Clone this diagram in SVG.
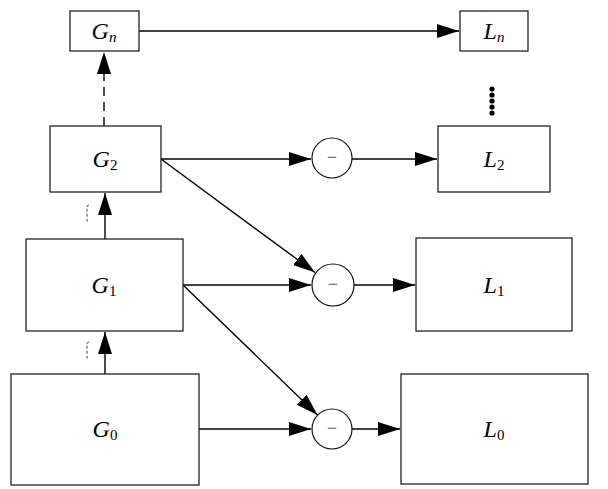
<svg xmlns="http://www.w3.org/2000/svg" width="608" height="489" viewBox="0 0 608 489">
<style>
.box{fill:#fff;stroke:#222;stroke-width:1.3}
.c{fill:#fff;stroke:#111;stroke-width:1.2}
.ln{fill:none;stroke:#000;stroke-width:1.4}
.lbl{font-family:"Liberation Serif","Times New Roman",serif;font-style:italic;font-size:24px;fill:#000}
.sub{font-style:normal;font-size:15px}
.subi{font-style:italic;font-size:15px}
.minus{font-family:"Liberation Sans",Arial,sans-serif;font-size:17px;fill:#777}
</style>
<defs>
<marker id="ah" markerUnits="userSpaceOnUse" markerWidth="24" markerHeight="15" refX="22" refY="7" orient="auto">
<path d="M0,0 L22,7 L0,14 Z" fill="#000"/>
</marker>
</defs>
<g id="connectors">
<line class="ln" x1="139" y1="31" x2="459" y2="31" marker-end="url(#ah)"/>
<line class="ln" x1="104" y1="126" x2="104" y2="52" stroke-dasharray="9,6" marker-end="url(#ah)"/>
<line class="ln" x1="105" y1="239" x2="105" y2="193" marker-end="url(#ah)"/>
<line class="ln" x1="105" y1="374" x2="105" y2="332" marker-end="url(#ah)"/>
<line class="ln" x1="161" y1="159" x2="311" y2="159" marker-end="url(#ah)"/>
<line class="ln" x1="352" y1="159" x2="437" y2="159" marker-end="url(#ah)"/>
<line class="ln" x1="161" y1="159" x2="315" y2="272.5" marker-end="url(#ah)"/>
<line class="ln" x1="183" y1="285" x2="311" y2="285" marker-end="url(#ah)"/>
<line class="ln" x1="354" y1="285" x2="415" y2="285" marker-end="url(#ah)"/>
<line class="ln" x1="183" y1="285" x2="317.5" y2="415" marker-end="url(#ah)"/>
<line class="ln" x1="199" y1="429" x2="311" y2="429" marker-end="url(#ah)"/>
<line class="ln" x1="352" y1="429" x2="400" y2="429" marker-end="url(#ah)"/>
<path d="M89,205 L87,206 L87,221 L89,222" fill="none" stroke="#444" stroke-width="1" stroke-dasharray="3,2"/>
<path d="M89,342 L87,343 L87,358 L89,359" fill="none" stroke="#444" stroke-width="1" stroke-dasharray="3,2"/>
</g>
<g id="Gn"><rect class="box" x="70" y="11" width="69" height="40"/><text class="lbl" x="104" y="39" text-anchor="middle">G<tspan class="subi" dy="3">n</tspan></text></g>
<g id="Ln"><rect class="box" x="460" y="11" width="68" height="40"/><text class="lbl" x="494" y="39" text-anchor="middle">L<tspan class="subi" dy="3">n</tspan></text></g>
<g id="dots" fill="#000"><circle cx="492" cy="89" r="2.6"/><circle cx="492" cy="95" r="2.6"/><circle cx="492" cy="101" r="2.6"/><circle cx="492" cy="107" r="2.6"/><circle cx="492" cy="113" r="2.6"/></g>
<g id="G2"><rect class="box" x="50" y="126" width="111" height="66"/><text class="lbl" x="105" y="167" text-anchor="middle">G<tspan class="sub" dy="3">2</tspan></text></g>
<g id="L2"><rect class="box" x="438" y="126" width="112" height="66"/><text class="lbl" x="494" y="167" text-anchor="middle">L<tspan class="sub" dy="3">2</tspan></text></g>
<g id="G1"><rect class="box" x="26" y="239" width="157" height="92"/><text class="lbl" x="104" y="293" text-anchor="middle">G<tspan class="sub" dy="3">1</tspan></text></g>
<g id="L1"><rect class="box" x="416" y="238" width="156" height="93"/><text class="lbl" x="494" y="293" text-anchor="middle">L<tspan class="sub" dy="3">1</tspan></text></g>
<g id="G0"><rect class="box" x="11" y="374" width="188" height="111"/><text class="lbl" x="105" y="437" text-anchor="middle">G<tspan class="sub" dy="3">0</tspan></text></g>
<g id="L0"><rect class="box" x="401" y="374" width="187" height="110"/><text class="lbl" x="494" y="437" text-anchor="middle">L<tspan class="sub" dy="3">0</tspan></text></g>
<g id="sub2"><circle class="c" cx="332" cy="158" r="20"/><text class="minus" x="332" y="163" text-anchor="middle">−</text></g>
<g id="sub1"><circle class="c" cx="333" cy="285" r="21"/><text class="minus" x="333" y="290" text-anchor="middle">−</text></g>
<g id="sub0"><circle class="c" cx="332" cy="429" r="20"/><text class="minus" x="332" y="434" text-anchor="middle">−</text></g>
</svg>
